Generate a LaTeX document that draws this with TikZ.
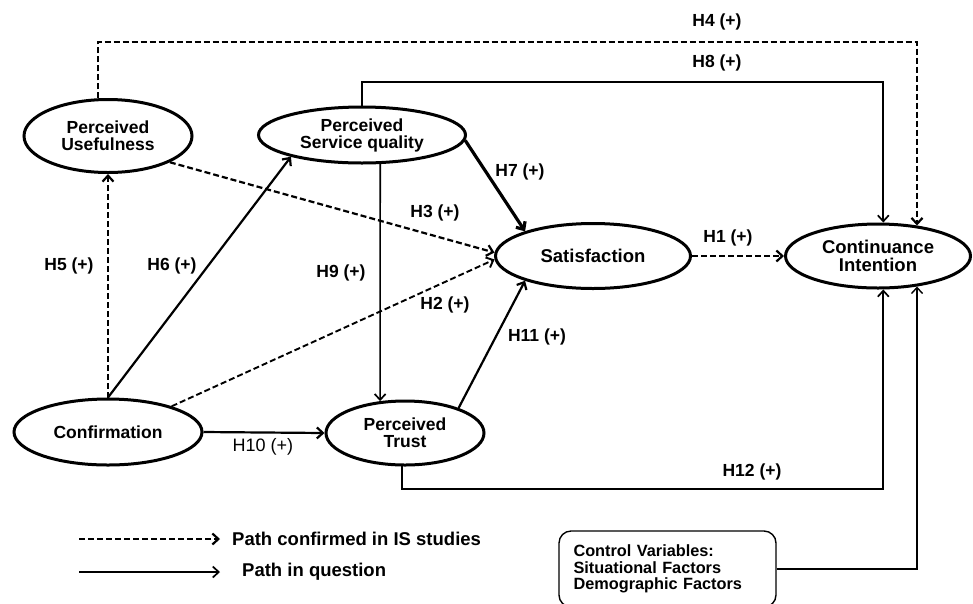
\documentclass[tikz,border=0pt]{standalone}
\usepackage{fontspec}
\setmainfont{Liberation Sans}
\usetikzlibrary{arrows.meta,shapes.geometric}
\begin{document}
\begin{tikzpicture}[x=1pt,y=-1pt,
  construct/.style={ellipse,draw,line width=3pt,inner sep=0pt,align=center,font=\bfseries\fontsize{17.5}{17}\selectfont},
  conn/.style={line width=2.2pt,-{Straight Barb[length=6pt,width=11pt]}},
  dsh/.style={conn,dash pattern=on 6pt off 3pt},
  thinconn/.style={conn,line width=1.7pt},
  lbl/.style={font=\bfseries\fontsize{17.5}{18}\selectfont,inner sep=0pt},
  legtext/.style={font=\bfseries\fontsize{18.5}{18}\selectfont,inner sep=0pt,anchor=west},
]
\useasboundingbox (0,0) rectangle (973,603);

% constructs
\node[construct,minimum width=168pt,minimum height=73pt] (PU) at (108,136) {Perceived\\Usefulness};
\node[construct,minimum width=207pt,minimum height=56pt] (PSQ) at (362,135) {Perceived\\Service quality};
\node[construct,minimum width=195pt,minimum height=65pt,font=\bfseries\fontsize{18.5}{18}\selectfont] (Sat) at (593,256) {Satisfaction};
\node[construct,minimum width=185pt,minimum height=64pt,font=\bfseries\fontsize{18.5}{17.5}\selectfont] (CI) at (878,256) {Continuance\\Intention};
\node[construct,minimum width=188pt,minimum height=66pt] (Conf) at (108,432) {Confirmation};
\node[construct,minimum width=158pt,minimum height=64pt] (PT) at (405,433) {Perceived\\Trust};

% control box
\node[draw,line width=1.4pt,rounded corners=12pt,minimum width=217pt,minimum height=76pt,
      text width=188pt,inner xsep=14.5pt,align=left,
      font=\bfseries\fontsize{16.3}{16.5}\selectfont] (ctrl) at (667.5,569) {Control Variables:\\Situational Factors\\Demographic Factors};

% helper coordinates for elbow connectors
\coordinate (c4) at (500,42);
\coordinate (c8) at (600,82);
\coordinate (c12) at (600,489);

% connectors
\draw[dsh] (PU.105) |- (c4) -| (CI.38.5);
\draw[thinconn] (PSQ.north) |- (c8) -| (CI.81.4);
\draw[thinconn] (PT.265) |- (c12) -| (CI.-81.4);
\draw[conn,line width=1.4pt] (ctrl.east) -| (CI.-38.5);

\draw[dsh] (Conf.north) -- (PU.south);
\draw[conn] (Conf.north) -- (PSQ.197);
\draw[dsh] (PU.-23) -- (Sat.178);
\draw[dsh,line width=1.9pt] (Conf.22) -- (Sat.182);
\draw[conn,line width=3.2pt] (PSQ.-3) -- (Sat.160);
\draw[thinconn] (PSQ.-58) -- (PT.128.6);
\draw[conn] (Conf.east) -- (PT.west);
\draw[conn] (PT.25) -- (Sat.200);
\draw[dsh] (Sat.east) -- (CI.west);

% labels
\node[lbl] (l4) at (717,22) {H4 (+)};
\node[lbl] (l8) at (717,63) {H8 (+)};
\node[lbl] (l7) at (520,172) {H7 (+)};
\node[lbl] (l3) at (435,213) {H3 (+)};
\node[lbl] (l5) at (69,266) {H5 (+)};
\node[lbl] (l6) at (172,266) {H6 (+)};
\node[lbl] (l9) at (341,273) {H9 (+)};
\node[lbl] (l1) at (728,238) {H1 (+)};
\node[lbl] (l2) at (445,305) {H2 (+)};
\node[lbl] (l11) at (537,337) {H11 (+)};
\node[font=\fontsize{18}{18}\selectfont,inner sep=0pt] (l10) at (263,447) {H10 (+)};
\node[lbl] (l12) at (752,472) {H12 (+)};

% legend
\coordinate (lgA1) at (79,539);
\coordinate (lgA2) at (220,539);
\coordinate (lgB1) at (79,572);
\coordinate (lgB2) at (220,572);
\draw[dsh] (lgA1) -- (lgA2);
\draw[thinconn] (lgB1) -- (lgB2);
\node[legtext] (lgAt) at (232,539) {Path confirmed in IS studies};
\node[legtext] (lgBt) at (242,572) {Path in question};
\end{tikzpicture}
\end{document}
